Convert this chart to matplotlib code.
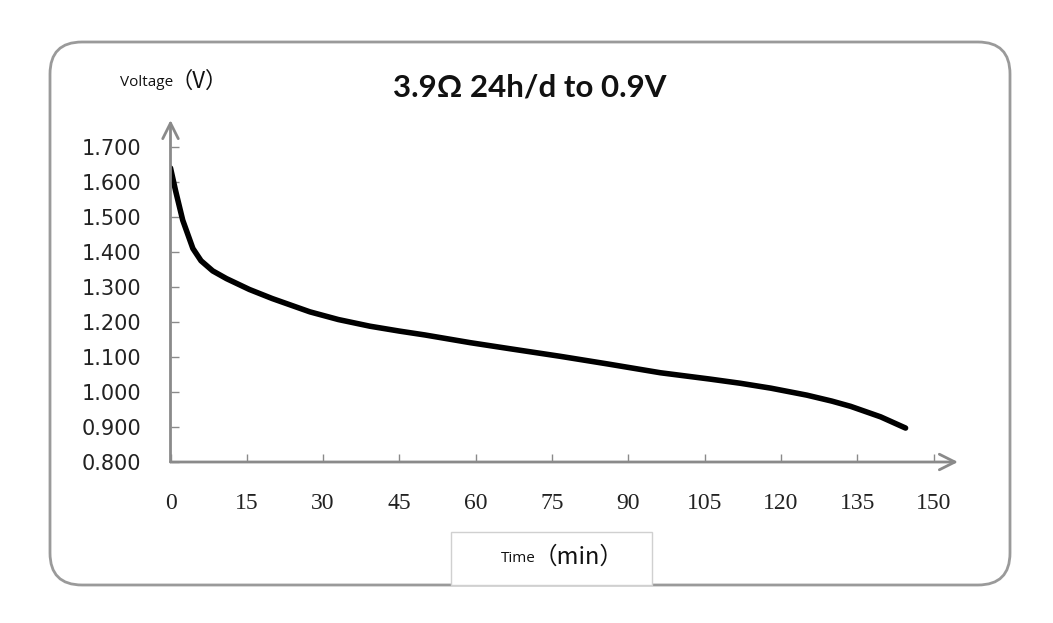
import matplotlib.pyplot as plt
from matplotlib.patches import FancyBboxPatch, Rectangle

# discharge curve
time_min = [0, 1, 2.4, 4.4, 6, 8.3, 11, 15.5, 20, 27.4, 33, 39.2, 45, 50, 58.9,
            67, 76.6, 86, 96.3, 106, 112, 118, 125.1, 130, 133.7, 139.6, 144.5]
voltage = [1.64, 1.575, 1.491, 1.410, 1.375, 1.346, 1.324, 1.293, 1.267, 1.229,
           1.207, 1.188, 1.174, 1.163, 1.141, 1.123, 1.102, 1.080, 1.055, 1.037,
           1.025, 1.011, 0.991, 0.974, 0.959, 0.929, 0.897]

x_ticks = [0, 15, 30, 45, 60, 75, 90, 105, 120, 135, 150]
y_ticks = [0.8, 0.9, 1.0, 1.1, 1.2, 1.3, 1.4, 1.5, 1.6, 1.7]

W, H = 1053, 623
fig = plt.figure(figsize=(W / 100, H / 100), dpi=100)

# background layer in pixel coordinates (frame, labels)
bg = fig.add_axes([0, 0, 1, 1], zorder=0)
bg.set_xlim(0, W)
bg.set_ylim(H, 0)
bg.axis('off')
bg.add_patch(FancyBboxPatch((50, 42), 960, 543,
                            boxstyle="round,pad=0,rounding_size=32",
                            fc='white', ec='#9a9a9a', lw=2))
bg.add_patch(Rectangle((451, 532), 201, 53, fc='white', ec='#d0d0d0', lw=1))
bg.text(530, 88, '3.9Ω 24h/d to 0.9V', fontsize=22.5, fontweight='bold',
        family=['Lato', 'DejaVu Sans'], ha='center', va='center', color='#111')
bg.text(173, 82, 'Voltage', fontsize=11, family=['Open Sans', 'DejaVu Sans'],
        ha='right', va='center', color='#111')
bg.text(171, 81, '（V）', fontsize=16, family=['Noto Sans CJK SC', 'DejaVu Sans'],
        ha='left', va='center', color='#111')
bg.text(536, 558, 'Time', fontsize=11, family=['Open Sans', 'DejaVu Sans'],
        ha='right', va='center', color='#111')
bg.text(534, 557, '（min）', fontsize=17, family=['Noto Sans CJK SC', 'DejaVu Sans'],
        ha='left', va='center', color='#111')

# main chart
x0, x1 = 170.5, 958
y0, y1 = 462, 120
ax = fig.add_axes([x0 / W, 1 - y0 / H, (x1 - x0) / W, (y0 - y1) / H], zorder=1)
ax.patch.set_alpha(0)
ax.set_xlim(0, (x1 - x0) / 5.087)
ax.set_ylim(0.8, 0.8 + (y0 - y1) / 350)

ax.plot(time_min, voltage, color='black', lw=4, solid_capstyle='round',
        solid_joinstyle='round')

for s in ax.spines.values():
    s.set_visible(False)
ax.annotate('', xy=(1, 0), xytext=(0, 0), xycoords='axes fraction',
            arrowprops=dict(arrowstyle='->', color='#8a8a8a', lw=2,
                            mutation_scale=28, shrinkA=0, shrinkB=0))
ax.annotate('', xy=(0, 1), xytext=(0, 0), xycoords='axes fraction',
            arrowprops=dict(arrowstyle='->', color='#8a8a8a', lw=2,
                            mutation_scale=28, shrinkA=0, shrinkB=0))

ax.set_xticks(x_ticks)
ax.set_xticklabels([str(v) for v in x_ticks], family='Liberation Serif',
                   fontsize=17, color='#222')
ax.set_yticks(y_ticks)
ax.set_yticklabels([f'{v:.3f}' for v in y_ticks], family='DejaVu Sans',
                   fontsize=15, color='#222')
ax.tick_params(axis='x', direction='in', length=6, width=1, color='#8a8a8a', pad=22)
ax.tick_params(axis='y', direction='in', length=6, width=1, color='#8a8a8a', pad=21)

fig.savefig('out.png', dpi=100, facecolor='white')
